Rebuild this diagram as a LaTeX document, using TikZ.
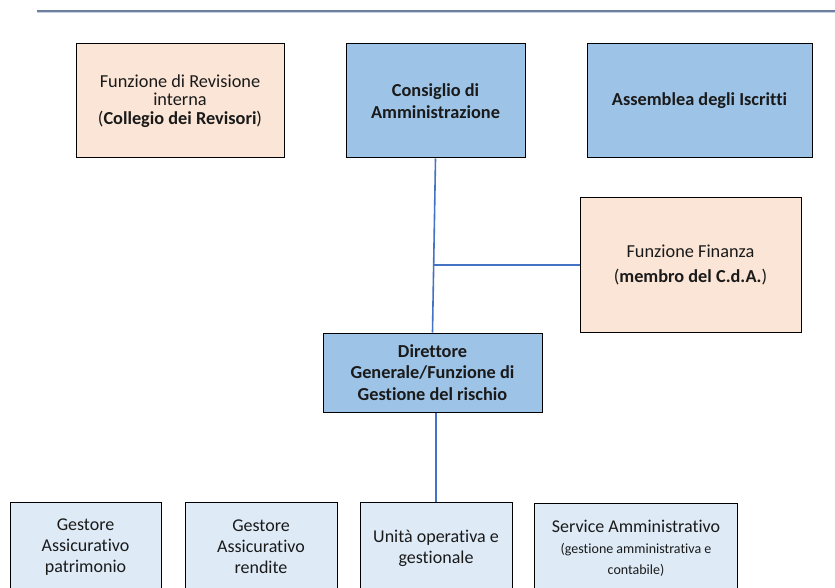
\documentclass[tikz,border=0pt]{standalone}
\usepackage{fontspec}
\usetikzlibrary{calc}
\setmainfont{Carlito}[Ligatures=NoCommon]
\definecolor{peach}{HTML}{FBE5D6}
\definecolor{midblue}{HTML}{9DC3E6}
\definecolor{paleblue}{HTML}{DEEBF7}
\definecolor{linkblue}{HTML}{4472C4}
\definecolor{rulehi}{HTML}{6F7FA0}
\definecolor{rulelo}{HTML}{C9D2E3}
\definecolor{txt}{HTML}{1A1A1A}
\begin{document}
\begin{tikzpicture}[x=1pt,y=-1pt,
  box/.style={draw=black,line width=1pt,rectangle,align=center,inner sep=2pt,
    text=txt,font=\fontsize{18.3}{18.6}\selectfont},
  peachbox/.style={box,fill=peach},
  bluebox/.style={box,fill=midblue,font=\fontsize{18.3}{21.5}\selectfont\bfseries},
  palebox/.style={box,fill=paleblue,font=\fontsize{18}{21}\selectfont},
  link/.style={draw=linkblue,line width=2pt}]
\useasboundingbox (0,0) rectangle (835,588);
\fill[white] (0,0) rectangle (835,588);
% top rule
\draw[rulehi,line width=1.6pt] (37,10.8) -- (835,10.8);
\draw[rulelo,line width=1.6pt] (37,12.4) -- (835,12.4);
% top row
\node[peachbox,minimum width=208pt,minimum height=114pt] (rev) at (180,101)
  {Funzione di Revisione\\interna\\(\textbf{Collegio dei Revisori})};
\node[bluebox,minimum width=179pt,minimum height=114pt] (cda) at (435.5,101)
  {Consiglio di\\Amministrazione};
\node[bluebox,minimum width=225pt,minimum height=114pt] (ass) at (699.5,101)
  {Assemblea degli Iscritti};
% finance
\node[peachbox,minimum width=221pt,minimum height=135pt,
  font=\fontsize{18.3}{24.5}\selectfont] (fin) at (690.5,265)
  {Funzione Finanza\\(\textbf{membro del C.d.A.})};
% director
\node[bluebox,minimum width=219pt,minimum height=79pt] (dir) at (432.5,372.5)
  {Direttore\\Generale/Funzione di\\Gestione del rischio};
% bottom row
\node[palebox,minimum width=151pt,minimum height=90pt] (ga) at (85.5,547)
  {Gestore\\Assicurativo\\patrimonio};
\node[palebox,minimum width=152pt,minimum height=90pt] (gb) at (261,547)
  {Gestore\\Assicurativo\\rendite};
\node[palebox,minimum width=152pt,minimum height=92pt] (uo) at (436,548)
  {Unità operativa e\\gestionale};
\node[palebox,minimum width=202.5pt,minimum height=90pt] (sa) at (636,548.5)
  {Service Amministrativo\\{\fontsize{14}{20}\selectfont (gestione amministrativa e}\\{\fontsize{14}{20}\selectfont contabile)}};
% connectors
\coordinate (jn) at ($(cda.south)!0.612!(dir.north)$);
\draw[link,line width=1.6pt] (cda.south) -- (dir.north);
\draw[link] (fin.west) -- (fin.west -| jn);
\draw[link,line width=1.6pt] (uo.north) -- (uo.north |- dir.south);
\end{tikzpicture}
\end{document}
